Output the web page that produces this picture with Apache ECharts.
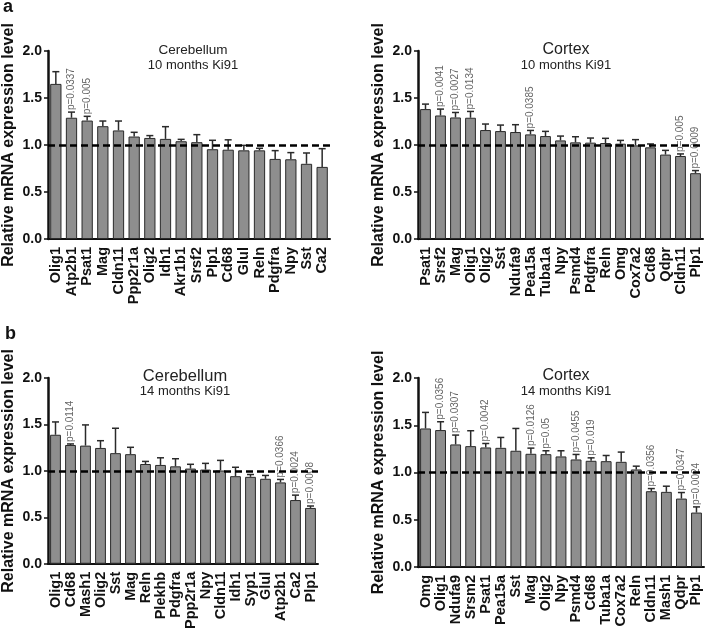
<!DOCTYPE html>
<html>
<head>
<meta charset="utf-8">
<script src="https://cdn.jsdelivr.net/npm/echarts@6/dist/echarts.min.js"></script>
<style>
html,body{margin:0;padding:0;background:#fff;}
#main{width:706px;height:632px;}
</style>
</head>
<body>
<div id="main"></div>
<script>
// panel a, cerebellum 10 months
var aCbGenes = ['Olig1','Atp2b1','Psat1','Mag','Cldn11','Ppp2r1a','Olig2','Idh1','Akr1b1','Srsf2','Plp1','Cd68','Glul','Reln','Pdgfra','Npy','Sst','Ca2'];
var aCbMean  = [1.65,1.29,1.26,1.20,1.155,1.09,1.075,1.065,1.04,1.03,0.955,0.95,0.943,0.943,0.852,0.848,0.80,0.767];
var aCbSem   = [0.13,0.06,0.045,0.055,0.10,0.045,0.025,0.13,0.02,0.08,0.095,0.105,0.053,0.022,0.088,0.071,0.115,0.194];
var aCbP     = ['','p=0.0337','p=0.005','','','','','','','','','','','','','','',''];

// panel a, cortex 10 months
var aCxGenes = ['Psat1','Srsf2','Mag','Olig1','Olig2','Sst','Ndufa9','Pea15a','Tuba1a','Npy','Psmd4','Pdgfra','Reln','Omg','Cox7a2','Cd68','Qdpr','Cldn11','Plp1'];
var aCxMean  = [1.382,1.314,1.293,1.29,1.159,1.148,1.138,1.113,1.095,1.049,1.028,1.025,1.021,1.014,0.996,0.975,0.898,0.883,0.70];
var aCxSem   = [0.053,0.068,0.053,0.067,0.064,0.064,0.078,0.042,0.05,0.046,0.06,0.049,0.05,0.035,0.061,0.036,0.045,0.022,0.028];
var aCxP     = ['','p=0.0041','p=0.0027','p=0.0134','','','','p=0.0385','','','','','','','','','','p=0.005','p=0.0009'];

// panel b, cerebellum 14 months
var bCbGenes = ['Olig1','Cd68','Mash1','Olig2','Sst','Mag','Reln','Plekhb','Pdgfra','Ppp2r1a','Npy','Cldn11','Idh1','Syp1','Glul','Atp2b1','Ca2','Plp1'];
var bCbMean  = [1.389,1.279,1.272,1.247,1.191,1.18,1.074,1.064,1.049,1.025,1.014,1.004,0.943,0.936,0.915,0.876,0.686,0.601];
var bCbSem   = [0.138,0.011,0.223,0.078,0.268,0.074,0.028,0.077,0.082,0.046,0.067,0.109,0.096,0.025,0.036,0.032,0.053,0.021];
var bCbP     = ['','p=0.0114','','','','','','','','','','','','','','p=0.0366','p=0.0024','p=0.0008'];

// panel b, cortex 14 months
var bCxGenes = ['Omg','Olig1','Ndufa9','Srsm2','Psat1','Pea15a','Sst','Mag','Olig2','Npy','Psmd4','Cd68','Tuba1a','Cox7a2','Reln','Cldn11','Mash1','Qdpr','Plp1'];
var bCxMean  = [1.466,1.449,1.297,1.279,1.265,1.261,1.23,1.198,1.194,1.17,1.138,1.124,1.12,1.113,1.032,0.802,0.795,0.724,0.576];
var bCxSem   = [0.17,0.088,0.099,0.163,0.042,0.11,0.236,0.06,0.036,0.06,0.053,0.031,0.06,0.103,0.035,0.028,0.06,0.064,0.06];
var bCxP     = ['','p=0.0356','p=0.0307','','p=0.0042','','','p=0.0126','p=0.05','','p=0.0455','p=0.019','','','','p=0.0356','','p=0.0347','p=0.0024'];

var FONT = 'Liberation Sans, Arial, sans-serif';

var panels = [
  {genes: aCbGenes, mean: aCbMean, sem: aCbSem, p: aCbP, grid: {left: 48, top: 51, width: 282, height: 188}},
  {genes: aCxGenes, mean: aCxMean, sem: aCxSem, p: aCxP, grid: {left: 418, top: 51, width: 285, height: 188}},
  {genes: bCbGenes, mean: bCbMean, sem: bCbSem, p: bCbP, grid: {left: 47, top: 378, width: 271, height: 189}},
  {genes: bCxGenes, mean: bCxMean, sem: bCxSem, p: bCxP, grid: {left: 418, top: 378, width: 286, height: 189}}
];

var grids = [], xAxes = [], yAxes = [], series = [];

panels.forEach(function (pn, i) {
  grids.push(pn.grid);
  xAxes.push({
    type: 'category', gridIndex: i, data: pn.genes,
    axisLine: {lineStyle: {color: '#111', width: 2}},
    axisTick: {alignWithLabel: true, length: 5, lineStyle: {color: '#111', width: 1.5}},
    axisLabel: {rotate: 90, interval: 0, margin: 8, fontSize: 14.5, fontWeight: 'bold', color: '#111', fontFamily: FONT}
  });
  yAxes.push({
    type: 'value', gridIndex: i, min: 0, max: 2, interval: 0.5,
    name: 'Relative mRNA expression level', nameLocation: 'middle', nameGap: 31,
    nameTextStyle: {fontSize: 16, fontWeight: 'bold', color: '#111', fontFamily: FONT},
    axisLine: {show: true, lineStyle: {color: '#111', width: 2.5}},
    axisTick: {show: true, length: 4, lineStyle: {color: '#111', width: 1.5}},
    axisLabel: {margin: 6, fontSize: 14, fontWeight: 'bold', color: '#111', fontFamily: FONT,
      formatter: function (v) { return v.toFixed(1); }},
    splitLine: {show: false}
  });
  series.push({
    type: 'bar', xAxisIndex: i, yAxisIndex: i, data: pn.mean,
    barCategoryGap: '28%',
    itemStyle: {color: '#8e8e8e', borderColor: '#2a2a2a', borderWidth: 1},
    silent: true,
    markLine: {
      silent: true, symbol: 'none', label: {show: false},
      lineStyle: {color: '#000', width: 2.5, type: [7, 4]},
      data: [{yAxis: 1}]
    },
    z: 2
  });
  series.push({
    type: 'custom', xAxisIndex: i, yAxisIndex: i,
    data: pn.mean.map(function (m, k) { return [k, m, m + pn.sem[k]]; }),
    renderItem: function (params, api) {
      var k = params.dataIndex;
      var base = api.coord([api.value(0), api.value(1)]);
      var top = api.coord([api.value(0), api.value(2)]);
      var children = [
        {type: 'line', shape: {x1: base[0], y1: base[1], x2: top[0], y2: top[1]}, style: {stroke: '#2a2a2a', lineWidth: 1.5}},
        {type: 'line', shape: {x1: top[0] - 3.5, y1: top[1], x2: top[0] + 3.5, y2: top[1]}, style: {stroke: '#2a2a2a', lineWidth: 1.5}}
      ];
      if (pn.p[k]) {
        children.push({
          type: 'text', x: top[0], y: top[1] - 2, rotation: Math.PI / 2,
          style: {text: pn.p[k], fontSize: 10, fontFamily: FONT, fill: '#666', align: 'left', verticalAlign: 'middle'}
        });
      }
      return {type: 'group', children: children};
    },
    z: 3
  });
});

function txt(x, y, s, size, weight) {
  return {type: 'text', x: x, y: y, style: {text: s, fontSize: size, fontWeight: weight || 'normal',
    fontFamily: FONT, fill: '#222', align: 'center', verticalAlign: 'middle'}};
}

var myChart = echarts.init(document.getElementById('main'));
myChart.setOption({
  animation: false,
  grid: grids,
  xAxis: xAxes,
  yAxis: yAxes,
  series: series,
  graphic: [
    {type: 'text', left: 3, top: -2, style: {text: 'a', fontSize: 18, fontWeight: 'bold', fontFamily: FONT, fill: '#111'}},
    {type: 'text', left: 5, top: 325, style: {text: 'b', fontSize: 18, fontWeight: 'bold', fontFamily: FONT, fill: '#111'}},
    txt(193, 50, 'Cerebellum', 13.5),
    txt(193, 65, '10 months Ki91', 13),
    txt(566, 50, 'Cortex', 16),
    txt(566, 65, '10 months Ki91', 13),
    txt(185, 376, 'Cerebellum', 16.5),
    txt(185, 391, '14 months Ki91', 13),
    txt(566, 376, 'Cortex', 16),
    txt(566, 391, '14 months Ki91', 13)
  ]
});
</script>
</body>
</html>
